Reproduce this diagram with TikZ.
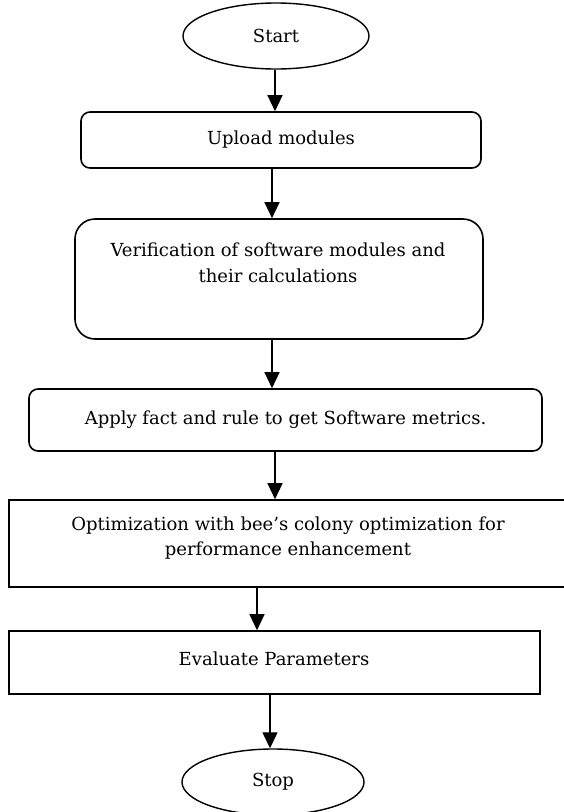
\documentclass[tikz,border=0pt]{standalone}
\usepackage{fontspec}
\setmainfont{DejaVu Serif}
\usetikzlibrary{shapes.geometric,arrows.meta}
\begin{document}
\begin{tikzpicture}[x=1pt,y=-1pt,
  every node/.style={font=\fontsize{18}{25.5}\selectfont, inner sep=0pt},
  term/.style={draw, line width=1.4pt, ellipse},
  rbox/.style={draw, line width=1.6pt, rectangle, rounded corners=9pt},
  sbox/.style={draw, line width=1.6pt, rectangle},
  txt/.style={align=center},
  arr/.style={line width=1.3pt, -{Triangle[width=15pt,length=16pt]}}]
\useasboundingbox (0,0) rectangle (563,812);
\node[term, minimum width=186pt, minimum height=66pt] (start) at (276,36) {Start};
\node[rbox, minimum width=400pt, minimum height=56pt] (upload) at (281,140) {Upload modules};
\node[rbox, rounded corners=20pt, minimum width=408pt, minimum height=120pt] (verif) at (279,279) {};
\node[txt] (veriftxt) at (278,263) {Verification of software modules and\\their calculations};
\node[rbox, minimum width=513pt, minimum height=62pt] (apply) at (285.5,420) {Apply fact and rule to get Software metrics.};
\node[sbox, minimum width=557pt, minimum height=87pt] (opt) at (287.5,543.5) {};
\node[txt] (opttxt) at (288,538) {Optimization with bee’s colony optimization for\\performance enhancement};
\node[sbox, minimum width=531pt, minimum height=63pt] (eval) at (274.5,662.5) {};
\node[txt] (evaltxt) at (274,659) {Evaluate Parameters};
\node[term, minimum width=182pt, minimum height=66pt] (stop) at (273,782) {Stop};
\draw[arr] ([xshift=-1pt]start.south) -- ([xshift=-6pt]upload.north);
\draw[arr] ([xshift=-9pt]upload.south) -- ([xshift=-7pt]verif.north);
\draw[arr] ([xshift=-7pt]verif.south) -- ([xshift=-13.5pt]apply.north);
\draw[arr] ([xshift=-10.5pt]apply.south) -- ([xshift=-12.5pt]opt.north);
\draw[arr] ([xshift=-30.5pt]opt.south) -- ([xshift=-17.5pt]eval.north);
\draw[arr] ([xshift=-4.5pt]eval.south) -- ([xshift=-3pt]stop.north);
\end{tikzpicture}
\end{document}
